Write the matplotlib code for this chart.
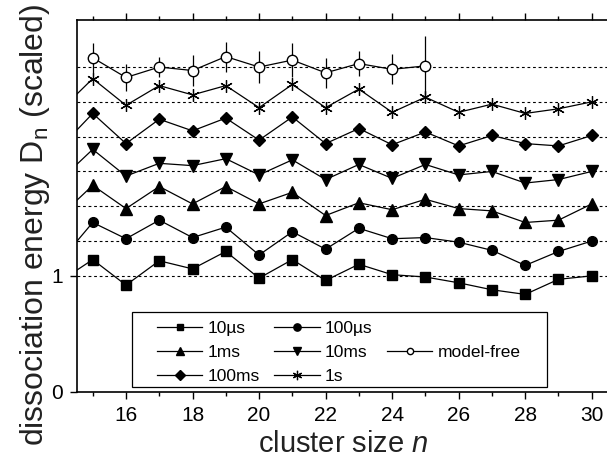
import matplotlib
matplotlib.use("Agg")
import matplotlib.pyplot as plt
from matplotlib.lines import Line2D
from matplotlib.patches import Rectangle

plt.rcParams['font.family'] = ['Liberation Sans', 'DejaVu Sans']
plt.rcParams['mathtext.fontset'] = 'custom'
plt.rcParams['mathtext.rm'] = 'Liberation Sans'
plt.rcParams['mathtext.it'] = 'Liberation Sans:italic'

# cluster sizes (14 lies just outside the left edge, only its line segment shows)
n = [14, 15, 16, 17, 18, 19, 20, 21, 22, 23, 24, 25, 26, 27, 28, 29, 30]

# scaled dissociation energies, each series shifted by 0.3
d_10us = [0.95, 1.14, 0.92, 1.13, 1.06, 1.21, 0.98, 1.14, 0.96, 1.10, 1.01, 0.99, 0.94, 0.88, 0.84, 0.97, 1.00]
d_100us = [1.12, 1.46, 1.32, 1.48, 1.33, 1.42, 1.18, 1.38, 1.23, 1.41, 1.32, 1.33, 1.29, 1.22, 1.09, 1.21, 1.30]
d_1ms = [1.51, 1.78, 1.58, 1.77, 1.62, 1.77, 1.62, 1.72, 1.52, 1.63, 1.57, 1.66, 1.58, 1.56, 1.46, 1.48, 1.62]
d_10ms = [1.82, 2.09, 1.86, 1.97, 1.95, 2.01, 1.87, 2.00, 1.83, 1.96, 1.84, 1.96, 1.87, 1.90, 1.80, 1.83, 1.90]
d_100ms = [2.10, 2.40, 2.14, 2.35, 2.25, 2.36, 2.17, 2.37, 2.14, 2.27, 2.13, 2.24, 2.12, 2.21, 2.14, 2.12, 2.21]
d_1s = [2.42, 2.70, 2.47, 2.64, 2.56, 2.64, 2.45, 2.65, 2.45, 2.61, 2.41, 2.54, 2.41, 2.48, 2.40, 2.44, 2.50]

n_mf = [15, 16, 17, 18, 19, 20, 21, 22, 23, 24, 25]
d_mf = [2.88, 2.71, 2.80, 2.77, 2.89, 2.80, 2.86, 2.75, 2.83, 2.78, 2.81]
err_mf = [0.13, 0.12, 0.09, 0.13, 0.13, 0.14, 0.15, 0.13, 0.11, 0.13, 0.26]

levels = [1.0, 1.3, 1.6, 1.9, 2.2, 2.5, 2.8]

fig = plt.figure(figsize=(6.07, 4.61), dpi=100)
ax = fig.add_axes([0.127, 0.150, 0.878, 0.807])

for lv in levels:
    ax.axhline(lv, color='black', lw=0.8, ls=(0, (2.5, 2.5)), zorder=1)

kw = dict(color='black', lw=0.9, zorder=3)
ax.plot(n, d_10us, marker='s', ms=6.5, label='10µs', **kw)
ax.plot(n, d_100us, marker='o', ms=7, label='100µs', **kw)
ax.plot(n, d_1ms, marker='^', ms=8, label='1ms', **kw)
ax.plot(n, d_10ms, marker='v', ms=8, label='10ms', **kw)
ax.plot(n, d_100ms, marker='D', ms=6.5, label='100ms', **kw)
ax.plot(n, d_1s, marker=(6, 2, 0), ms=9, mew=0.9, label='1s', **kw)
ax.errorbar(n_mf, d_mf, yerr=err_mf, color='black', lw=0.9, elinewidth=0.9,
            capsize=0, marker='o', ms=7.5, mfc='white', mec='black', zorder=4)

ax.set_xlim(14.53, 30.55)
ax.set_ylim(0, 3.207)
ax.set_xticks(range(16, 31, 2))
ax.set_xticks(range(15, 31), minor=True)
ax.set_yticks([0, 1])
ax.tick_params(axis='both', which='major', direction='out', length=5, width=1,
               labelsize=15, top=True, pad=5)
ax.tick_params(axis='x', which='minor', direction='out', length=3, width=1, top=True)
for s in ax.spines.values():
    s.set_linewidth(1.2)
ax.spines['right'].set_visible(False)

ax.set_xlabel('cluster size $n$', fontsize=21, color='#222222', labelpad=4)
ax.set_ylabel('dissociation energy D$\\mathregular{_n}$ (scaled)', fontsize=23,
              color='#222222')
ax.yaxis.set_label_coords(-0.047, 0.449)

# legend: three rows, model-free alone in the third column
hs = {l.get_label(): l for l in ax.get_lines()}
blank = Line2D([], [], color='none')
mf = Line2D([], [], color='black', lw=0.9, marker='o', ms=6, mfc='white', mec='black')
handles = [hs['10µs'], hs['1ms'], hs['100ms'],
           hs['100µs'], hs['10ms'], hs['1s'],
           blank, mf, blank]
labels = ['10µs', '1ms', '100ms', '100µs', '10ms', '1s', '', 'model-free', '']
ax.add_patch(Rectangle((0.103, 0.0134), 0.779, 0.2016, transform=ax.transAxes,
                       fill=True, fc='white', ec='black', lw=0.9, zorder=5))
leg = ax.legend(handles, labels, ncol=3, loc='center left',
                bbox_to_anchor=(0.15, 0.106), fontsize=12.5, frameon=False,
                handlelength=2.6, handletextpad=0.3, columnspacing=0.85,
                labelspacing=0.5, borderpad=0.0, borderaxespad=0.0,
                markerscale=0.75)
leg.set_zorder(6)

fig.savefig('out.png', dpi=100)
